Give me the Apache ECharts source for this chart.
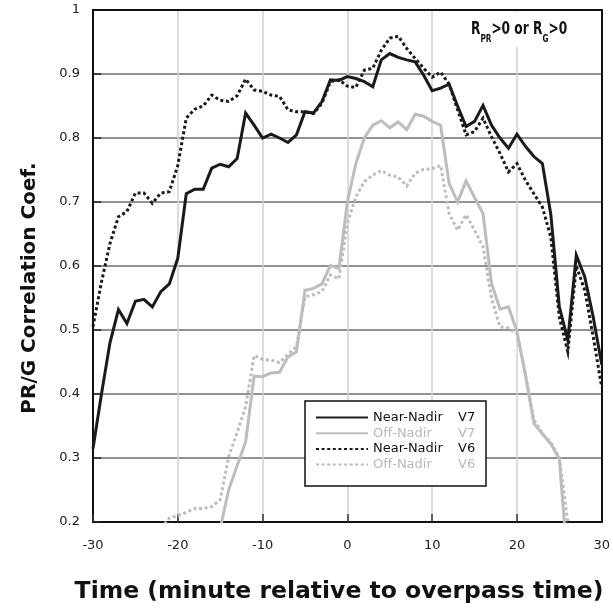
<!DOCTYPE html>
<html>
<head>
<meta charset="utf-8">
<script src="https://cdn.jsdelivr.net/npm/echarts@6/dist/echarts.min.js"></script>
<style>html,body{margin:0;padding:0;background:#fff}#c{width:613px;height:613px}</style>
</head>
<body>
<div id="c"></div>
<script>
const times = [-30,-29,-28,-27,-26,-25,-24,-23,-22,-21,-20,-19,-18,-17,-16,-15,-14,-13,-12,-11,-10,-9,-8,-7,-6,-5,-4,-3,-2,-1,0,1,2,3,4,5,6,7,8,9,10,11,12,13,14,15,16,17,18,19,20,21,22,23,24,25,26,27,28,29,30];

const nearV7 = [0.315,0.40,0.48,0.532,0.51,0.545,0.548,0.536,0.56,0.572,0.612,0.713,0.72,0.72,0.753,0.759,0.755,0.768,0.839,0.82,0.80,0.806,0.80,0.793,0.805,0.841,0.839,0.857,0.891,0.89,0.896,0.893,0.888,0.88,0.922,0.932,0.926,0.922,0.919,0.898,0.874,0.878,0.884,0.85,0.818,0.826,0.851,0.82,0.80,0.784,0.806,0.787,0.771,0.76,0.68,0.536,0.484,0.617,0.583,0.52,0.446];

const offV7 = [null,null,null,null,null,null,null,null,null,null,null,null,null,null,null,0.19,0.25,0.288,0.325,0.428,0.427,0.433,0.434,0.458,0.466,0.562,0.565,0.572,0.601,0.596,0.70,0.76,0.80,0.82,0.827,0.816,0.825,0.813,0.837,0.834,0.826,0.82,0.729,0.70,0.733,0.707,0.682,0.573,0.533,0.536,0.498,0.43,0.354,0.338,0.322,0.299,0.13,null,null,null,null];

const nearV6 = [0.505,0.575,0.635,0.677,0.685,0.714,0.714,0.698,0.714,0.716,0.757,0.831,0.845,0.85,0.867,0.859,0.857,0.866,0.892,0.875,0.873,0.867,0.865,0.844,0.841,0.841,0.838,0.854,0.888,0.891,0.881,0.879,0.906,0.909,0.937,0.956,0.959,0.94,0.924,0.909,0.895,0.903,0.884,0.844,0.805,0.81,0.831,0.802,0.776,0.747,0.76,0.734,0.713,0.692,0.645,0.52,0.466,0.60,0.562,0.489,0.411];

const offV6 = [null,null,null,null,null,null,null,null,0.19,0.206,0.21,0.215,0.221,0.221,0.224,0.235,0.302,0.34,0.38,0.46,0.454,0.453,0.449,0.462,0.474,0.552,0.555,0.56,0.586,0.58,0.667,0.708,0.732,0.742,0.749,0.742,0.739,0.725,0.745,0.751,0.752,0.757,0.682,0.656,0.68,0.656,0.63,0.55,0.505,0.503,0.494,0.43,0.36,0.338,0.324,0.30,0.2,null,null,null,null];

const xTicks = [-30,-20,-10,0,10,20,30];
const yTicks = [0.2,0.3,0.4,0.5,0.6,0.7,0.8,0.9,1];

const seriesNames = ['Near-Nadir V7','Off-Nadir V7','Near-Nadir V6','Off-Nadir V6'];
const BLACK = '#1a1a1a', GRAY = '#bdbdbd';
const FONT = 'DejaVu Sans';
const NARROW = '"DejaVu Sans Condensed", "DejaVu Sans", sans-serif';

function pairs(arr){ return times.map((t,i)=>[t, arr[i]]); }

const chart = echarts.init(document.getElementById('c'), null, {renderer:'canvas'});

function mkSeries(name, arr, color, dashed, z){
  return {
    name, type:'line', data: pairs(arr), symbol:'none', showSymbol:false,
    connectNulls:false, clip:true, z,
    lineStyle:{color, width:3, type: dashed ? [3,2.6] : 'solid', cap:'butt', join:'miter'},
    itemStyle:{color},
    emphasis:{disabled:true}
  };
}

const option = {
  animation:false,
  backgroundColor:'#fff',
  grid:{left:93, right:7, top:10, bottom:91, containLabel:false},
  xAxis:[{
    type:'value', min:xTicks[0], max:xTicks[xTicks.length-1], interval:xTicks[1]-xTicks[0],
    axisLine:{show:true, onZero:false, lineStyle:{color:'#111', width:2}},
    axisTick:{show:true, inside:true, length:8, lineStyle:{color:'#333', width:1.5}},
    axisLabel:{fontFamily:FONT, fontSize:13, color:'#222', margin:17},
    splitLine:{show:true, showMinLine:false, showMaxLine:false, lineStyle:{color:'#d2d2d2', width:1.5}}
  },{
    type:'value', position:'top', min:xTicks[0], max:xTicks[xTicks.length-1], z:5,
    axisLine:{show:true, onZero:false, lineStyle:{color:'#111', width:2}},
    axisTick:{show:false}, axisLabel:{show:false}, splitLine:{show:false}
  }],
  yAxis:[{
    type:'value', min:yTicks[0], max:yTicks[yTicks.length-1], interval:0.1,
    axisLine:{show:true, onZero:false, lineStyle:{color:'#111', width:2}},
    axisTick:{show:true, inside:true, length:8, lineStyle:{color:'#222', width:1.5}},
    axisLabel:{fontFamily:FONT, fontSize:13, color:'#222', margin:13,
      formatter: v => String(Math.round(v*10)/10)},
    splitLine:{show:true, showMinLine:false, showMaxLine:false, lineStyle:{color:'#6e6e6e', width:1.5}}
  },{
    type:'value', position:'right', min:yTicks[0], max:yTicks[yTicks.length-1], z:5,
    axisLine:{show:true, onZero:false, lineStyle:{color:'#111', width:2}},
    axisTick:{show:false}, axisLabel:{show:false}, splitLine:{show:false}
  }],
  legend:{
    orient:'vertical', left:305, top:401,
    padding:[10,9,10,10],
    itemWidth:52, itemHeight:14, itemGap:2.7,
    borderWidth:0, backgroundColor:'transparent',
    selectedMode:false,
    itemStyle:{opacity:0},
    textStyle:{fontFamily:FONT, fontSize:13,
      rich:{a:{width:85, fontFamily:FONT, fontSize:13}, b:{fontFamily:FONT, fontSize:13}}},
    formatter: name => { const p = name.split(' '); return '{a|'+p[0]+'}{b|'+p[1]+'}'; },
    data: seriesNames.map((n,i)=>({name:n, itemStyle:{opacity:0}, textStyle:{color: (i%2===0)? '#111' : '#b8b8b8'}}))
  },
  series:[
    mkSeries(seriesNames[1], offV7, GRAY, false, 2),
    mkSeries(seriesNames[3], offV6, GRAY, true, 2),
    mkSeries(seriesNames[2], nearV6, BLACK, true, 3),
    mkSeries(seriesNames[0], nearV7, BLACK, false, 3)
  ],
  graphic:[
    {type:'rect', z:1, shape:{x:462, y:12, width:120, height:35}, style:{fill:'#fff'}},
    {type:'rect', z:3, shape:{x:305, y:401, width:181, height:85}, style:{fill:'#fff', stroke:'#111', lineWidth:1.5}},
    {type:'text', z:6, x:471, y:20.7, scaleX:0.775, style:{
      text:'{r|R}{s|PR}{r|>0 or R}{s|G}{r|>0}',
      textVerticalAlign:'top',
      rich:{
        r:{fontFamily:NARROW, fontWeight:'bold', fontSize:17.5, lineHeight:18, verticalAlign:'top', fill:'#111'},
        s:{fontFamily:NARROW, fontWeight:'bold', fontSize:10.5, lineHeight:11, padding:[13,0,0,0], verticalAlign:'top', fill:'#111'}
      }
    }},
    {type:'text', z:6, x:30, y:288, rotation:Math.PI/2, style:{
      text:'PR/G Correlation Coef.', font:'bold 20px "DejaVu Sans"', fill:'#111',
      textAlign:'center', textVerticalAlign:'middle'}},
    {type:'text', z:6, x:339, y:592, style:{
      text:'Time (minute relative to overpass time)', font:'bold 23.5px "DejaVu Sans"', fill:'#111',
      textAlign:'center', textVerticalAlign:'middle'}}
  ]
};
chart.setOption(option);
</script>
</body>
</html>
